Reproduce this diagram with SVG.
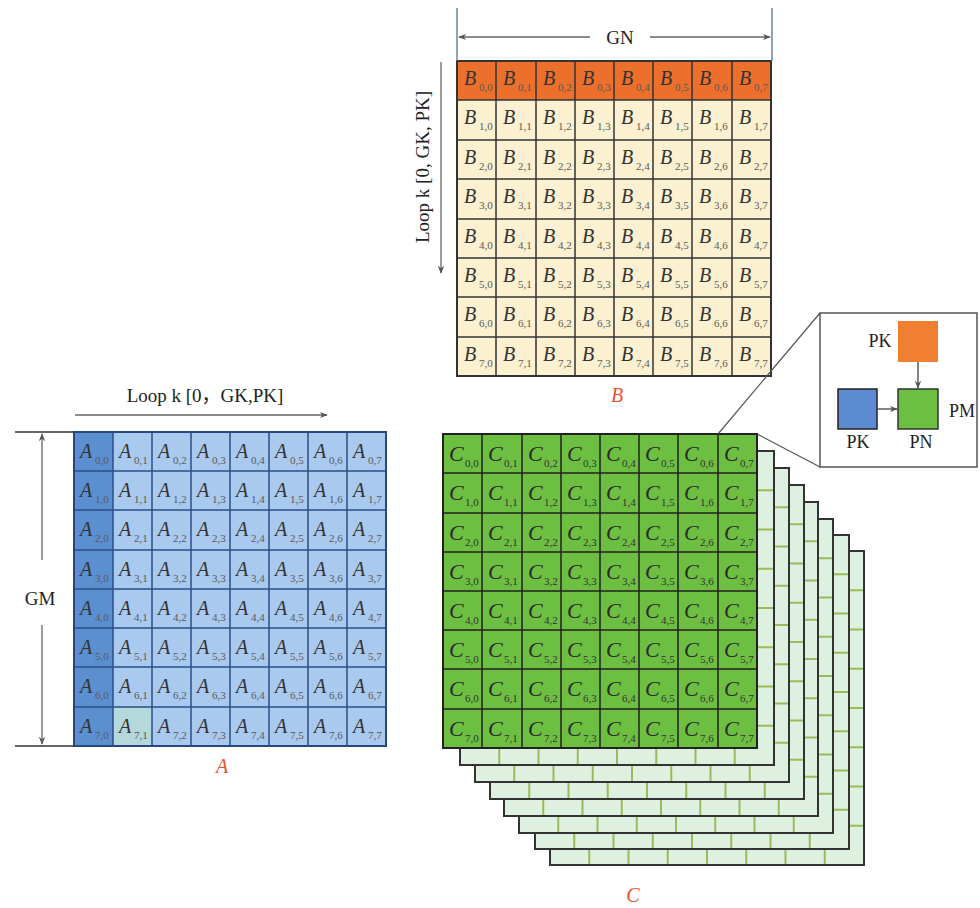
<svg xmlns="http://www.w3.org/2000/svg" width="980" height="908" viewBox="0 0 980 908">
<style>
.l{font-family:"Liberation Serif","Times New Roman",serif;font-style:italic;font-size:20px;fill:#333}
.lc{font-family:"Liberation Serif","Times New Roman",serif;font-style:italic;font-size:22px;fill:#2a2a2a}
.s{font-style:normal;font-size:11px;fill:#5a5a5a}
.sc{font-style:normal;font-size:11px;fill:#333}
.t{font-family:"Liberation Serif","Times New Roman","Noto Sans CJK SC",serif;font-size:19px;fill:#222}
.ti{font-family:"Liberation Serif","Times New Roman",serif;font-size:18px;fill:#222;text-anchor:middle}
.red{font-family:"Liberation Serif","Times New Roman",serif;font-style:italic;font-size:20px;fill:#e8532b;text-anchor:middle}
.dim{stroke:#666;stroke-width:1.3;fill:none}
.edge{stroke:#333;stroke-width:1.5;fill:none}
</style>
<defs>
<marker id="ah" viewBox="0 0 10 10" refX="9" refY="5" markerWidth="8" markerHeight="8" orient="auto-start-reverse" markerUnits="userSpaceOnUse">
<path d="M0,1 L10,5 L0,9 L3,5 Z" fill="#555"/>
</marker>
<g id="layer">
<rect x="0" y="0" width="314" height="314" fill="#def0df"/>
<path d="M39.25,0V314M78.5,0V314M117.75,0V314M157,0V314M196.25,0V314M235.5,0V314M274.75,0V314M0,39.25H314M0,78.5H314M0,117.75H314M0,157H314M0,196.25H314M0,235.5H314M0,274.75H314" stroke="#9cba5c" stroke-width="2" fill="none"/>
<rect x="0" y="0" width="314" height="314" fill="none" stroke="#333" stroke-width="2"/>
</g>
</defs>
<rect width="980" height="908" fill="#ffffff"/>

<g id="matrix-B">
<rect x="457" y="61" width="314" height="315" fill="#fbf0cf"/>
<rect x="457" y="61" width="314" height="39" fill="#ec6f2b"/>
<path d="M496,61V376M536,61V376M575,61V376M614,61V376M653,61V376M692,61V376M732,61V376M457,100H771M457,140H771M457,179H771M457,219H771M457,258H771M457,297H771M457,337H771" stroke="#333" stroke-width="1.5" fill="none"/>
<rect x="457" y="61" width="314" height="315" fill="none" stroke="#333" stroke-width="2"/>
<text class="l" x="464" y="85">B<tspan class="s" x="479" y="91">0,0</tspan></text>
<text class="l" x="503" y="85">B<tspan class="s" x="518" y="91">0,1</tspan></text>
<text class="l" x="543" y="85">B<tspan class="s" x="558" y="91">0,2</tspan></text>
<text class="l" x="582" y="85">B<tspan class="s" x="597" y="91">0,3</tspan></text>
<text class="l" x="621" y="85">B<tspan class="s" x="636" y="91">0,4</tspan></text>
<text class="l" x="660" y="85">B<tspan class="s" x="675" y="91">0,5</tspan></text>
<text class="l" x="699" y="85">B<tspan class="s" x="714" y="91">0,6</tspan></text>
<text class="l" x="739" y="85">B<tspan class="s" x="754" y="91">0,7</tspan></text>
<text class="l" x="464" y="124">B<tspan class="s" x="479" y="130">1,0</tspan></text>
<text class="l" x="503" y="124">B<tspan class="s" x="518" y="130">1,1</tspan></text>
<text class="l" x="543" y="124">B<tspan class="s" x="558" y="130">1,2</tspan></text>
<text class="l" x="582" y="124">B<tspan class="s" x="597" y="130">1,3</tspan></text>
<text class="l" x="621" y="124">B<tspan class="s" x="636" y="130">1,4</tspan></text>
<text class="l" x="660" y="124">B<tspan class="s" x="675" y="130">1,5</tspan></text>
<text class="l" x="699" y="124">B<tspan class="s" x="714" y="130">1,6</tspan></text>
<text class="l" x="739" y="124">B<tspan class="s" x="754" y="130">1,7</tspan></text>
<text class="l" x="464" y="164">B<tspan class="s" x="479" y="170">2,0</tspan></text>
<text class="l" x="503" y="164">B<tspan class="s" x="518" y="170">2,1</tspan></text>
<text class="l" x="543" y="164">B<tspan class="s" x="558" y="170">2,2</tspan></text>
<text class="l" x="582" y="164">B<tspan class="s" x="597" y="170">2,3</tspan></text>
<text class="l" x="621" y="164">B<tspan class="s" x="636" y="170">2,4</tspan></text>
<text class="l" x="660" y="164">B<tspan class="s" x="675" y="170">2,5</tspan></text>
<text class="l" x="699" y="164">B<tspan class="s" x="714" y="170">2,6</tspan></text>
<text class="l" x="739" y="164">B<tspan class="s" x="754" y="170">2,7</tspan></text>
<text class="l" x="464" y="203">B<tspan class="s" x="479" y="209">3,0</tspan></text>
<text class="l" x="503" y="203">B<tspan class="s" x="518" y="209">3,1</tspan></text>
<text class="l" x="543" y="203">B<tspan class="s" x="558" y="209">3,2</tspan></text>
<text class="l" x="582" y="203">B<tspan class="s" x="597" y="209">3,3</tspan></text>
<text class="l" x="621" y="203">B<tspan class="s" x="636" y="209">3,4</tspan></text>
<text class="l" x="660" y="203">B<tspan class="s" x="675" y="209">3,5</tspan></text>
<text class="l" x="699" y="203">B<tspan class="s" x="714" y="209">3,6</tspan></text>
<text class="l" x="739" y="203">B<tspan class="s" x="754" y="209">3,7</tspan></text>
<text class="l" x="464" y="243">B<tspan class="s" x="479" y="249">4,0</tspan></text>
<text class="l" x="503" y="243">B<tspan class="s" x="518" y="249">4,1</tspan></text>
<text class="l" x="543" y="243">B<tspan class="s" x="558" y="249">4,2</tspan></text>
<text class="l" x="582" y="243">B<tspan class="s" x="597" y="249">4,3</tspan></text>
<text class="l" x="621" y="243">B<tspan class="s" x="636" y="249">4,4</tspan></text>
<text class="l" x="660" y="243">B<tspan class="s" x="675" y="249">4,5</tspan></text>
<text class="l" x="699" y="243">B<tspan class="s" x="714" y="249">4,6</tspan></text>
<text class="l" x="739" y="243">B<tspan class="s" x="754" y="249">4,7</tspan></text>
<text class="l" x="464" y="282">B<tspan class="s" x="479" y="288">5,0</tspan></text>
<text class="l" x="503" y="282">B<tspan class="s" x="518" y="288">5,1</tspan></text>
<text class="l" x="543" y="282">B<tspan class="s" x="558" y="288">5,2</tspan></text>
<text class="l" x="582" y="282">B<tspan class="s" x="597" y="288">5,3</tspan></text>
<text class="l" x="621" y="282">B<tspan class="s" x="636" y="288">5,4</tspan></text>
<text class="l" x="660" y="282">B<tspan class="s" x="675" y="288">5,5</tspan></text>
<text class="l" x="699" y="282">B<tspan class="s" x="714" y="288">5,6</tspan></text>
<text class="l" x="739" y="282">B<tspan class="s" x="754" y="288">5,7</tspan></text>
<text class="l" x="464" y="321">B<tspan class="s" x="479" y="327">6,0</tspan></text>
<text class="l" x="503" y="321">B<tspan class="s" x="518" y="327">6,1</tspan></text>
<text class="l" x="543" y="321">B<tspan class="s" x="558" y="327">6,2</tspan></text>
<text class="l" x="582" y="321">B<tspan class="s" x="597" y="327">6,3</tspan></text>
<text class="l" x="621" y="321">B<tspan class="s" x="636" y="327">6,4</tspan></text>
<text class="l" x="660" y="321">B<tspan class="s" x="675" y="327">6,5</tspan></text>
<text class="l" x="699" y="321">B<tspan class="s" x="714" y="327">6,6</tspan></text>
<text class="l" x="739" y="321">B<tspan class="s" x="754" y="327">6,7</tspan></text>
<text class="l" x="464" y="361">B<tspan class="s" x="479" y="367">7,0</tspan></text>
<text class="l" x="503" y="361">B<tspan class="s" x="518" y="367">7,1</tspan></text>
<text class="l" x="543" y="361">B<tspan class="s" x="558" y="367">7,2</tspan></text>
<text class="l" x="582" y="361">B<tspan class="s" x="597" y="367">7,3</tspan></text>
<text class="l" x="621" y="361">B<tspan class="s" x="636" y="367">7,4</tspan></text>
<text class="l" x="660" y="361">B<tspan class="s" x="675" y="367">7,5</tspan></text>
<text class="l" x="699" y="361">B<tspan class="s" x="714" y="367">7,6</tspan></text>
<text class="l" x="739" y="361">B<tspan class="s" x="754" y="367">7,7</tspan></text>
<text class="red" x="617" y="402">B</text>
</g>

<g id="matrix-A">
<rect x="74" y="432" width="312" height="314" fill="#a9c9ee"/>
<rect x="74" y="432" width="39" height="314" fill="#5b8fd0"/>
<rect x="113" y="707" width="39" height="39" fill="#b4d8db"/>
<path d="M113,432V746M152,432V746M191,432V746M230,432V746M269,432V746M308,432V746M347,432V746M74,471H386M74,510H386M74,550H386M74,589H386M74,628H386M74,667H386M74,707H386" stroke="#2b4f88" stroke-width="1.5" fill="none"/>
<rect x="74" y="432" width="312" height="314" fill="none" stroke="#26487e" stroke-width="2"/>
<text class="l" x="80" y="458">A<tspan class="s" x="95" y="464">0,0</tspan></text>
<text class="l" x="119" y="458">A<tspan class="s" x="134" y="464">0,1</tspan></text>
<text class="l" x="158" y="458">A<tspan class="s" x="173" y="464">0,2</tspan></text>
<text class="l" x="197" y="458">A<tspan class="s" x="212" y="464">0,3</tspan></text>
<text class="l" x="236" y="458">A<tspan class="s" x="251" y="464">0,4</tspan></text>
<text class="l" x="275" y="458">A<tspan class="s" x="290" y="464">0,5</tspan></text>
<text class="l" x="314" y="458">A<tspan class="s" x="329" y="464">0,6</tspan></text>
<text class="l" x="353" y="458">A<tspan class="s" x="368" y="464">0,7</tspan></text>
<text class="l" x="80" y="497">A<tspan class="s" x="95" y="503">1,0</tspan></text>
<text class="l" x="119" y="497">A<tspan class="s" x="134" y="503">1,1</tspan></text>
<text class="l" x="158" y="497">A<tspan class="s" x="173" y="503">1,2</tspan></text>
<text class="l" x="197" y="497">A<tspan class="s" x="212" y="503">1,3</tspan></text>
<text class="l" x="236" y="497">A<tspan class="s" x="251" y="503">1,4</tspan></text>
<text class="l" x="275" y="497">A<tspan class="s" x="290" y="503">1,5</tspan></text>
<text class="l" x="314" y="497">A<tspan class="s" x="329" y="503">1,6</tspan></text>
<text class="l" x="353" y="497">A<tspan class="s" x="368" y="503">1,7</tspan></text>
<text class="l" x="80" y="536">A<tspan class="s" x="95" y="542">2,0</tspan></text>
<text class="l" x="119" y="536">A<tspan class="s" x="134" y="542">2,1</tspan></text>
<text class="l" x="158" y="536">A<tspan class="s" x="173" y="542">2,2</tspan></text>
<text class="l" x="197" y="536">A<tspan class="s" x="212" y="542">2,3</tspan></text>
<text class="l" x="236" y="536">A<tspan class="s" x="251" y="542">2,4</tspan></text>
<text class="l" x="275" y="536">A<tspan class="s" x="290" y="542">2,5</tspan></text>
<text class="l" x="314" y="536">A<tspan class="s" x="329" y="542">2,6</tspan></text>
<text class="l" x="353" y="536">A<tspan class="s" x="368" y="542">2,7</tspan></text>
<text class="l" x="80" y="576">A<tspan class="s" x="95" y="582">3,0</tspan></text>
<text class="l" x="119" y="576">A<tspan class="s" x="134" y="582">3,1</tspan></text>
<text class="l" x="158" y="576">A<tspan class="s" x="173" y="582">3,2</tspan></text>
<text class="l" x="197" y="576">A<tspan class="s" x="212" y="582">3,3</tspan></text>
<text class="l" x="236" y="576">A<tspan class="s" x="251" y="582">3,4</tspan></text>
<text class="l" x="275" y="576">A<tspan class="s" x="290" y="582">3,5</tspan></text>
<text class="l" x="314" y="576">A<tspan class="s" x="329" y="582">3,6</tspan></text>
<text class="l" x="353" y="576">A<tspan class="s" x="368" y="582">3,7</tspan></text>
<text class="l" x="80" y="615">A<tspan class="s" x="95" y="621">4,0</tspan></text>
<text class="l" x="119" y="615">A<tspan class="s" x="134" y="621">4,1</tspan></text>
<text class="l" x="158" y="615">A<tspan class="s" x="173" y="621">4,2</tspan></text>
<text class="l" x="197" y="615">A<tspan class="s" x="212" y="621">4,3</tspan></text>
<text class="l" x="236" y="615">A<tspan class="s" x="251" y="621">4,4</tspan></text>
<text class="l" x="275" y="615">A<tspan class="s" x="290" y="621">4,5</tspan></text>
<text class="l" x="314" y="615">A<tspan class="s" x="329" y="621">4,6</tspan></text>
<text class="l" x="353" y="615">A<tspan class="s" x="368" y="621">4,7</tspan></text>
<text class="l" x="80" y="654">A<tspan class="s" x="95" y="660">5,0</tspan></text>
<text class="l" x="119" y="654">A<tspan class="s" x="134" y="660">5,1</tspan></text>
<text class="l" x="158" y="654">A<tspan class="s" x="173" y="660">5,2</tspan></text>
<text class="l" x="197" y="654">A<tspan class="s" x="212" y="660">5,3</tspan></text>
<text class="l" x="236" y="654">A<tspan class="s" x="251" y="660">5,4</tspan></text>
<text class="l" x="275" y="654">A<tspan class="s" x="290" y="660">5,5</tspan></text>
<text class="l" x="314" y="654">A<tspan class="s" x="329" y="660">5,6</tspan></text>
<text class="l" x="353" y="654">A<tspan class="s" x="368" y="660">5,7</tspan></text>
<text class="l" x="80" y="693">A<tspan class="s" x="95" y="699">6,0</tspan></text>
<text class="l" x="119" y="693">A<tspan class="s" x="134" y="699">6,1</tspan></text>
<text class="l" x="158" y="693">A<tspan class="s" x="173" y="699">6,2</tspan></text>
<text class="l" x="197" y="693">A<tspan class="s" x="212" y="699">6,3</tspan></text>
<text class="l" x="236" y="693">A<tspan class="s" x="251" y="699">6,4</tspan></text>
<text class="l" x="275" y="693">A<tspan class="s" x="290" y="699">6,5</tspan></text>
<text class="l" x="314" y="693">A<tspan class="s" x="329" y="699">6,6</tspan></text>
<text class="l" x="353" y="693">A<tspan class="s" x="368" y="699">6,7</tspan></text>
<text class="l" x="80" y="733">A<tspan class="s" x="95" y="739">7,0</tspan></text>
<text class="l" x="119" y="733">A<tspan class="s" x="134" y="739">7,1</tspan></text>
<text class="l" x="158" y="733">A<tspan class="s" x="173" y="739">7,2</tspan></text>
<text class="l" x="197" y="733">A<tspan class="s" x="212" y="739">7,3</tspan></text>
<text class="l" x="236" y="733">A<tspan class="s" x="251" y="739">7,4</tspan></text>
<text class="l" x="275" y="733">A<tspan class="s" x="290" y="739">7,5</tspan></text>
<text class="l" x="314" y="733">A<tspan class="s" x="329" y="739">7,6</tspan></text>
<text class="l" x="353" y="733">A<tspan class="s" x="368" y="739">7,7</tspan></text>
<text class="red" x="222" y="773">A</text>
</g>

<g id="matrix-C">
<use href="#layer" x="550" y="551"/>
<use href="#layer" x="535" y="535"/>
<use href="#layer" x="519" y="519"/>
<use href="#layer" x="504" y="502"/>
<use href="#layer" x="490" y="485"/>
<use href="#layer" x="475" y="468"/>
<use href="#layer" x="460" y="451"/>
<rect x="443" y="434" width="314" height="314" fill="#6dbf42"/>
<path d="M482,434V748M522,434V748M561,434V748M600,434V748M639,434V748M678,434V748M718,434V748M443,473H757M443,513H757M443,552H757M443,591H757M443,630H757M443,669H757M443,709H757" stroke="#222" stroke-width="1.5" fill="none"/>
<rect x="443" y="434" width="314" height="314" fill="none" stroke="#222" stroke-width="2"/>
<text class="lc" x="449" y="461">C<tspan class="sc" x="465" y="467">0,0</tspan></text>
<text class="lc" x="488" y="461">C<tspan class="sc" x="504" y="467">0,1</tspan></text>
<text class="lc" x="528" y="461">C<tspan class="sc" x="544" y="467">0,2</tspan></text>
<text class="lc" x="567" y="461">C<tspan class="sc" x="583" y="467">0,3</tspan></text>
<text class="lc" x="606" y="461">C<tspan class="sc" x="622" y="467">0,4</tspan></text>
<text class="lc" x="645" y="461">C<tspan class="sc" x="661" y="467">0,5</tspan></text>
<text class="lc" x="684" y="461">C<tspan class="sc" x="700" y="467">0,6</tspan></text>
<text class="lc" x="724" y="461">C<tspan class="sc" x="740" y="467">0,7</tspan></text>
<text class="lc" x="449" y="500">C<tspan class="sc" x="465" y="506">1,0</tspan></text>
<text class="lc" x="488" y="500">C<tspan class="sc" x="504" y="506">1,1</tspan></text>
<text class="lc" x="528" y="500">C<tspan class="sc" x="544" y="506">1,2</tspan></text>
<text class="lc" x="567" y="500">C<tspan class="sc" x="583" y="506">1,3</tspan></text>
<text class="lc" x="606" y="500">C<tspan class="sc" x="622" y="506">1,4</tspan></text>
<text class="lc" x="645" y="500">C<tspan class="sc" x="661" y="506">1,5</tspan></text>
<text class="lc" x="684" y="500">C<tspan class="sc" x="700" y="506">1,6</tspan></text>
<text class="lc" x="724" y="500">C<tspan class="sc" x="740" y="506">1,7</tspan></text>
<text class="lc" x="449" y="540">C<tspan class="sc" x="465" y="546">2,0</tspan></text>
<text class="lc" x="488" y="540">C<tspan class="sc" x="504" y="546">2,1</tspan></text>
<text class="lc" x="528" y="540">C<tspan class="sc" x="544" y="546">2,2</tspan></text>
<text class="lc" x="567" y="540">C<tspan class="sc" x="583" y="546">2,3</tspan></text>
<text class="lc" x="606" y="540">C<tspan class="sc" x="622" y="546">2,4</tspan></text>
<text class="lc" x="645" y="540">C<tspan class="sc" x="661" y="546">2,5</tspan></text>
<text class="lc" x="684" y="540">C<tspan class="sc" x="700" y="546">2,6</tspan></text>
<text class="lc" x="724" y="540">C<tspan class="sc" x="740" y="546">2,7</tspan></text>
<text class="lc" x="449" y="579">C<tspan class="sc" x="465" y="585">3,0</tspan></text>
<text class="lc" x="488" y="579">C<tspan class="sc" x="504" y="585">3,1</tspan></text>
<text class="lc" x="528" y="579">C<tspan class="sc" x="544" y="585">3,2</tspan></text>
<text class="lc" x="567" y="579">C<tspan class="sc" x="583" y="585">3,3</tspan></text>
<text class="lc" x="606" y="579">C<tspan class="sc" x="622" y="585">3,4</tspan></text>
<text class="lc" x="645" y="579">C<tspan class="sc" x="661" y="585">3,5</tspan></text>
<text class="lc" x="684" y="579">C<tspan class="sc" x="700" y="585">3,6</tspan></text>
<text class="lc" x="724" y="579">C<tspan class="sc" x="740" y="585">3,7</tspan></text>
<text class="lc" x="449" y="618">C<tspan class="sc" x="465" y="624">4,0</tspan></text>
<text class="lc" x="488" y="618">C<tspan class="sc" x="504" y="624">4,1</tspan></text>
<text class="lc" x="528" y="618">C<tspan class="sc" x="544" y="624">4,2</tspan></text>
<text class="lc" x="567" y="618">C<tspan class="sc" x="583" y="624">4,3</tspan></text>
<text class="lc" x="606" y="618">C<tspan class="sc" x="622" y="624">4,4</tspan></text>
<text class="lc" x="645" y="618">C<tspan class="sc" x="661" y="624">4,5</tspan></text>
<text class="lc" x="684" y="618">C<tspan class="sc" x="700" y="624">4,6</tspan></text>
<text class="lc" x="724" y="618">C<tspan class="sc" x="740" y="624">4,7</tspan></text>
<text class="lc" x="449" y="657">C<tspan class="sc" x="465" y="663">5,0</tspan></text>
<text class="lc" x="488" y="657">C<tspan class="sc" x="504" y="663">5,1</tspan></text>
<text class="lc" x="528" y="657">C<tspan class="sc" x="544" y="663">5,2</tspan></text>
<text class="lc" x="567" y="657">C<tspan class="sc" x="583" y="663">5,3</tspan></text>
<text class="lc" x="606" y="657">C<tspan class="sc" x="622" y="663">5,4</tspan></text>
<text class="lc" x="645" y="657">C<tspan class="sc" x="661" y="663">5,5</tspan></text>
<text class="lc" x="684" y="657">C<tspan class="sc" x="700" y="663">5,6</tspan></text>
<text class="lc" x="724" y="657">C<tspan class="sc" x="740" y="663">5,7</tspan></text>
<text class="lc" x="449" y="696">C<tspan class="sc" x="465" y="702">6,0</tspan></text>
<text class="lc" x="488" y="696">C<tspan class="sc" x="504" y="702">6,1</tspan></text>
<text class="lc" x="528" y="696">C<tspan class="sc" x="544" y="702">6,2</tspan></text>
<text class="lc" x="567" y="696">C<tspan class="sc" x="583" y="702">6,3</tspan></text>
<text class="lc" x="606" y="696">C<tspan class="sc" x="622" y="702">6,4</tspan></text>
<text class="lc" x="645" y="696">C<tspan class="sc" x="661" y="702">6,5</tspan></text>
<text class="lc" x="684" y="696">C<tspan class="sc" x="700" y="702">6,6</tspan></text>
<text class="lc" x="724" y="696">C<tspan class="sc" x="740" y="702">6,7</tspan></text>
<text class="lc" x="449" y="736">C<tspan class="sc" x="465" y="742">7,0</tspan></text>
<text class="lc" x="488" y="736">C<tspan class="sc" x="504" y="742">7,1</tspan></text>
<text class="lc" x="528" y="736">C<tspan class="sc" x="544" y="742">7,2</tspan></text>
<text class="lc" x="567" y="736">C<tspan class="sc" x="583" y="742">7,3</tspan></text>
<text class="lc" x="606" y="736">C<tspan class="sc" x="622" y="742">7,4</tspan></text>
<text class="lc" x="645" y="736">C<tspan class="sc" x="661" y="742">7,5</tspan></text>
<text class="lc" x="684" y="736">C<tspan class="sc" x="700" y="742">7,6</tspan></text>
<text class="lc" x="724" y="736">C<tspan class="sc" x="740" y="742">7,7</tspan></text>
<text class="red" x="633" y="902">C</text>
</g>

<g id="inset">
<rect x="820" y="313" width="157" height="154" fill="#fff" stroke="#555" stroke-width="1.5"/>
<rect id="inset-PK-B" x="898" y="321" width="40" height="41" fill="#f07f31"/>
<rect id="inset-PM-C" x="898" y="389" width="40" height="40" fill="#6dbf42" stroke="#333" stroke-width="1.5"/>
<rect id="inset-PK-A" x="838" y="389" width="39" height="40" fill="#5b8bd0" stroke="#222" stroke-width="1.5"/>
<text class="ti" x="880" y="347">PK</text>
<text class="ti" x="962" y="417">PM</text>
<text class="ti" x="858" y="448">PK</text>
<text class="ti" x="921" y="448">PN</text>
</g>

<g id="labels">
<text class="t" x="205" y="402" text-anchor="middle">Loop k [0，GK,PK]</text>
<text class="t" transform="translate(429,167) rotate(-90)" text-anchor="middle">Loop k [0, GK, PK]</text>
<text class="t" x="620" y="44" text-anchor="middle">GN</text>
<text class="t" x="40" y="605" text-anchor="middle">GM</text>
</g>

<g id="connectors">
<line x1="457" y1="8" x2="457" y2="61" stroke="#5b6f8f" stroke-width="1.3"/>
<line x1="772" y1="8" x2="772" y2="61" stroke="#5b6f8f" stroke-width="1.3"/>
<line x1="459" y1="37" x2="590" y2="37" class="dim" marker-start="url(#ah)"/>
<line x1="650" y1="37" x2="770" y2="37" class="dim" marker-end="url(#ah)"/>
<line x1="441" y1="62" x2="441" y2="273" class="dim" marker-end="url(#ah)"/>
<line x1="75" y1="415" x2="327" y2="415" class="dim" marker-end="url(#ah)"/>
<line x1="15" y1="432" x2="74" y2="432" class="edge"/>
<line x1="15" y1="746" x2="74" y2="746" class="edge"/>
<line x1="42" y1="434" x2="42" y2="560" class="dim" marker-start="url(#ah)"/>
<line x1="42" y1="625" x2="42" y2="744" class="dim" marker-end="url(#ah)"/>
<line x1="820" y1="313" x2="718" y2="434" stroke="#555" stroke-width="1.2"/>
<line x1="820" y1="467" x2="757" y2="434" stroke="#555" stroke-width="1.2"/>
<line x1="918" y1="362" x2="918" y2="388" stroke="#444" stroke-width="1.3" marker-end="url(#ah)"/>
<line x1="877" y1="409" x2="897" y2="409" stroke="#444" stroke-width="1.3" marker-end="url(#ah)"/>
</g>
</svg>
